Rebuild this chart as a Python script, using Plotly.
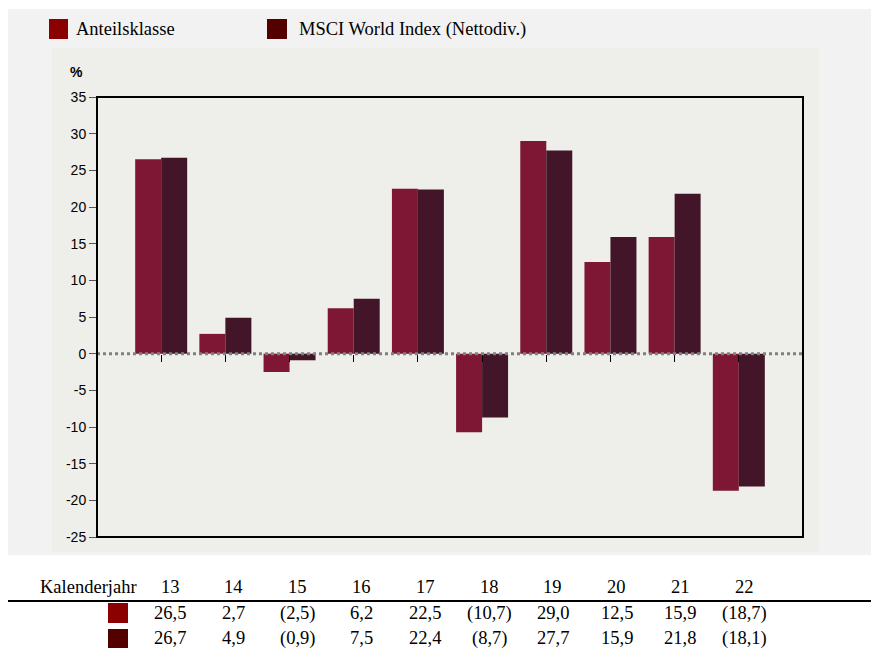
import plotly.graph_objects as go

# Kalenderjahre und Renditen in %
jahre = ['13', '14', '15', '16', '17', '18', '19', '20', '21', '22']
anteilsklasse = [26.5, 2.7, -2.5, 6.2, 22.5, -10.7, 29.0, 12.5, 15.9, -18.7]
msci_world = [26.7, 4.9, -0.9, 7.5, 22.4, -8.7, 27.7, 15.9, 21.8, -18.1]
y_ticks = [35, 30, 25, 20, 15, 10, 5, 0, -5, -10, -15, -20, -25]

farbe_anteil = '#7d1733'
farbe_msci = '#421628'
legende_anteil = '#8b0000'
legende_msci = '#520000'

# die Seite hat 8px Rand -> Figur etwas kleiner, Koordinaten in Seitenpixeln
OFF = 8
W, H = 879 - OFF, 648 - OFF
L, R, T, B = 97, 803, 97, 537


def px_x(v):
    return (v - L) / (R - L)


def px_y(v):
    return (B - v) / (B - T)


def fmt(v):
    s = f'{abs(v):.1f}'.replace('.', ',')
    return f'({s})' if v < 0 else s


fig = go.Figure()
fig.add_trace(go.Bar(x=jahre, y=anteilsklasse, name='Anteilsklasse',
                     marker=dict(color=farbe_anteil, line=dict(width=0))))
fig.add_trace(go.Bar(x=jahre, y=msci_world, name='MSCI World Index (Nettodiv.)',
                     marker=dict(color=farbe_msci, line=dict(width=0))))

shapes = [
    # Hintergründe
    dict(type='rect', xref='paper', yref='paper', layer='below',
         x0=px_x(8), x1=px_x(890), y0=px_y(555), y1=px_y(9),
         fillcolor='#f2f2f2', line=dict(width=0)),
    dict(type='rect', xref='paper', yref='paper', layer='below',
         x0=px_x(52), x1=px_x(819), y0=px_y(552), y1=px_y(48),
         fillcolor='#eeeeea', line=dict(width=0)),
    # Nulllinie
    dict(type='line', xref='paper', yref='y', x0=0, x1=1, y0=0, y1=0,
         line=dict(color='#808080', width=3, dash='dot')),
    # Rahmen
    dict(type='rect', xref='paper', yref='paper', x0=0, x1=1, y0=0, y1=1,
         line=dict(color='black', width=2)),
    # Legende
    dict(type='rect', xref='paper', yref='paper',
         x0=px_x(49), x1=px_x(68), y0=px_y(39), y1=px_y(19),
         fillcolor=legende_anteil, line=dict(width=0)),
    dict(type='rect', xref='paper', yref='paper',
         x0=px_x(267), x1=px_x(287), y0=px_y(39), y1=px_y(19),
         fillcolor=legende_msci, line=dict(width=0)),
    # Tabelle
    dict(type='line', xref='paper', yref='paper',
         x0=px_x(8), x1=px_x(890), y0=px_y(601), y1=px_y(601),
         line=dict(color='black', width=2)),
    dict(type='rect', xref='paper', yref='paper',
         x0=px_x(108), x1=px_x(128), y0=px_y(623), y1=px_y(603),
         fillcolor=legende_anteil, line=dict(width=0)),
    dict(type='rect', xref='paper', yref='paper',
         x0=px_x(108), x1=px_x(128), y0=px_y(649), y1=px_y(629),
         fillcolor=legende_msci, line=dict(width=0)),
]

serif = dict(family='Liberation Serif', size=18.5, color='black')

annotations = [
    dict(text='Anteilsklasse', xref='paper', yref='paper', x=px_x(74), y=px_y(29),
         xanchor='left', yanchor='middle', showarrow=False, font=serif),
    dict(text='MSCI World Index (Nettodiv.)', xref='paper', yref='paper',
         x=px_x(297), y=px_y(29), xanchor='left', yanchor='middle',
         showarrow=False, font=serif),
    dict(text='<b>%</b>', xref='paper', yref='paper', x=px_x(76), y=px_y(72),
         xanchor='center', yanchor='middle', showarrow=False,
         font=dict(family='Liberation Sans', size=14, color='black')),
    dict(text='Kalenderjahr', xref='paper', yref='paper', x=px_x(139), y=px_y(587),
         xanchor='right', yanchor='middle', showarrow=False, font=serif),
]
for i, j in enumerate(jahre):
    xc = px_x(170 + i * 63.8)
    for text, yy in [(j, 587), (fmt(anteilsklasse[i]), 613), (fmt(msci_world[i]), 638)]:
        annotations.append(dict(text=text, xref='paper', yref='paper', x=xc,
                                y=px_y(yy), xanchor='center', yanchor='middle',
                                showarrow=False, font=serif))

fig.update_layout(
    width=W, height=H,
    margin=dict(l=L - OFF, r=W - (R - OFF), t=T - OFF, b=H - (B - OFF)),
    paper_bgcolor='white', plot_bgcolor='#eeeeea',
    barmode='group', bargap=0.19, bargroupgap=0,
    showlegend=False,
    shapes=shapes, annotations=annotations,
    xaxis=dict(type='category', range=[-1, 10], showgrid=False, zeroline=False,
               showline=False, showticklabels=False, ticks='outside', ticklen=7,
               tickcolor='black', tickwidth=1, anchor='free', position=25 / 60),
    yaxis=dict(range=[-25, 35], tickvals=y_ticks, ticktext=[str(v) for v in y_ticks],
               showgrid=False, zeroline=False,
               showline=False, ticks='outside', ticklen=7, tickcolor='#555555',
               tickfont=dict(family='Liberation Sans', size=14, color='black')),
)

fig.write_html('out.html')
